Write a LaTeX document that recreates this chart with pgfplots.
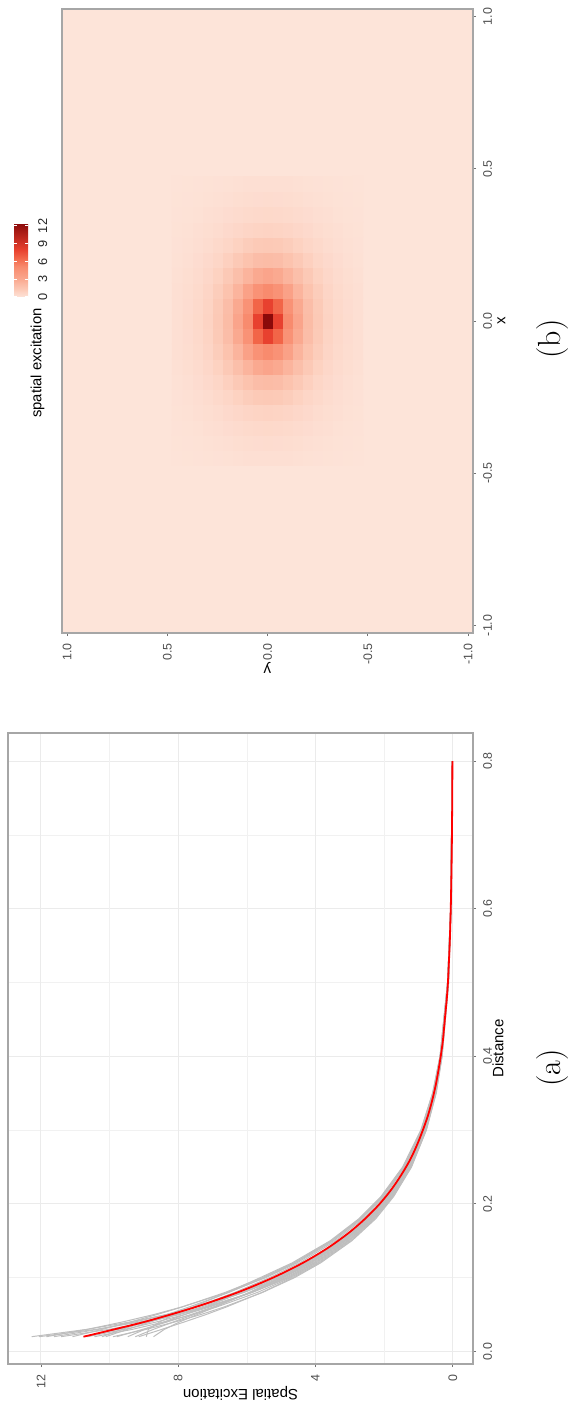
\documentclass[border=0pt]{standalone}
\usepackage{graphicx}
\usepackage{fontspec}
\newfontfamily\arial{Liberation Sans}
\usepackage{pgfplots}
\pgfplotsset{compat=1.18}
\usepackage{pgfplotstable}
\definecolor{gtext}{HTML}{4D4D4D}
\definecolor{gline}{HTML}{BEBEBE}
\definecolor{gridc}{HTML}{EBEBEB}
\definecolor{bord}{HTML}{A6A6A6}
\definecolor{bg0}{RGB}{253,228,217}
\pgfplotsset{/pgf/number format/assume math mode=true,
  colormap={reds}{rgb255(0cm)=(253,228,217); rgb255(0.35cm)=(253,220,207); rgb255(0.85cm)=(253,211,195); rgb255(1.3cm)=(252,201,182); rgb255(2.1cm)=(251,187,165); rgb255(3.2cm)=(250,165,140); rgb255(5.1cm)=(248,139,110); rgb255(6.6cm)=(242,101,72); rgb255(8cm)=(232,64,46); rgb255(12.5cm)=(139,10,10)}}

\pgfplotstableread{
x r
0.02 10.76
0.04 8.99
0.06 7.51
0.08 6.27
0.10 5.24
0.12 4.37
0.14 3.65
0.16 3.05
0.18 2.55
0.20 2.13
0.22 1.78
0.24 1.49
0.26 1.24
0.28 1.04
0.30 0.87
0.32 0.72
0.34 0.60
0.36 0.50
0.38 0.42
0.40 0.35
0.42 0.29
0.44 0.25
0.46 0.21
0.48 0.17
0.50 0.14
0.52 0.12
0.54 0.10
0.56 0.083
0.58 0.070
0.60 0.058
0.62 0.049
0.64 0.041
0.66 0.034
0.68 0.028
0.70 0.024
0.72 0.020
0.74 0.016
0.76 0.014
0.78 0.011
0.80 0.010
}\redt

\pgfplotstableread{
x g1 g2 g3 g4 g5 g6 g7 g8 g9 g10 g11 g12 g13 g14 g15 g16 g17 g18
0.02 12.27 11.84 11.41 11.08 10.76 10.44 10.11 9.79 9.47 9.15 8.93 8.72 12.05 11.62 10.65 9.90 9.25 10.22
0.03 10.65 10.64 10.01 10.21 9.74 9.33 9.48 9.03 8.97 8.47 8.87 8.40 10.39 10.32 9.55 8.93 8.72 9.63
0.04 9.39 9.62 8.90 9.39 8.86 8.41 8.81 8.32 8.41 7.82 8.54 7.96 9.12 9.26 8.63 8.09 8.14 8.99
0.05 8.35 8.71 7.96 8.62 8.05 7.59 8.14 7.63 7.81 7.19 8.10 7.45 8.07 8.33 7.81 7.34 7.54 8.33
0.06 7.49 7.92 7.17 7.90 7.34 6.89 7.51 7.00 7.23 6.61 7.59 6.93 7.23 7.55 7.10 6.68 6.97 7.70
0.08 6.08 6.56 5.86 6.63 6.10 5.69 6.35 5.87 6.14 5.56 6.56 5.93 5.84 6.21 5.87 5.54 5.90 6.52
0.10 4.98 5.45 4.82 5.55 5.08 4.72 5.34 4.93 5.19 4.66 5.61 5.03 4.77 5.14 4.87 4.61 4.98 5.50
0.12 4.15 4.54 4.02 4.63 4.24 3.93 4.46 4.11 4.33 3.89 4.68 4.20 3.98 4.28 4.06 3.85 4.15 4.59
0.15 3.17 3.47 3.07 3.54 3.24 3.01 3.41 3.14 3.31 2.97 3.57 3.21 3.04 3.27 3.11 2.94 3.17 3.51
0.18 2.42 2.65 2.35 2.70 2.47 2.30 2.60 2.40 2.52 2.27 2.73 2.45 2.32 2.50 2.37 2.24 2.42 2.68
0.21 1.85 2.03 1.79 2.07 1.89 1.76 1.99 1.83 1.93 1.74 2.09 1.87 1.77 1.91 1.81 1.72 1.85 2.05
0.25 1.29 1.41 1.25 1.44 1.32 1.22 1.39 1.28 1.35 1.21 1.46 1.31 1.24 1.33 1.26 1.20 1.29 1.43
0.30 0.83 0.90 0.80 0.92 0.84 0.78 0.89 0.82 0.86 0.77 0.93 0.84 0.79 0.85 0.81 0.77 0.83 0.91
0.35 0.52 0.57 0.51 0.58 0.53 0.50 0.56 0.52 0.54 0.49 0.59 0.53 0.50 0.54 0.51 0.48 0.52 0.58
0.40 0.33 0.36 0.32 0.37 0.34 0.32 0.36 0.33 0.35 0.31 0.37 0.34 0.32 0.34 0.33 0.31 0.33 0.37
0.50 0.13 0.15 0.13 0.15 0.14 0.13 0.14 0.13 0.14 0.12 0.15 0.13 0.13 0.14 0.13 0.12 0.13 0.15
0.60 0.055 0.060 0.053 0.061 0.056 0.052 0.059 0.055 0.057 0.052 0.062 0.056 0.053 0.057 0.054 0.051 0.055 0.061
0.80 0.010 0.010 0.009 0.011 0.010 0.009 0.010 0.009 0.010 0.009 0.011 0.010 0.009 0.010 0.009 0.009 0.010 0.011
}\grayt

\begin{document}
\rotatebox{90}{%
\begin{tikzpicture}
\useasboundingbox (0,0) rectangle (701.5pt,286pt);
% ---------------- panel (a)
\begin{axis}[at={(19.5pt,49.5pt)}, anchor=south west, scale only axis,
  width=315.5pt, height=232.5pt,
  xmin=-0.017, xmax=0.838, ymin=-0.59, ymax=12.96,
  xtick={0,0.2,0.4,0.6,0.8}, ytick={0,4,8,12},
  minor xtick={0.1,0.3,0.5,0.7}, minor ytick={2,6,10},
  grid=both,
  major grid style={draw=gridc, line width=0.5pt},
  minor grid style={draw=gridc!70, line width=0.3pt},
  minor tick length=0pt, major tick length=1.6pt, tick align=outside,
  xtick pos=left, ytick pos=left,
  tick style={draw=black!55, line width=0.4pt},
  axis line style={draw=bord, line width=0.6pt},
  tick label style={font=\arial\fontsize{6.2}{7}\selectfont, text=gtext},
  xticklabel style={/pgf/number format/fixed, /pgf/number format/fixed zerofill, /pgf/number format/precision=1},
  xlabel={Distance}, ylabel={Spatial Excitation},
  label style={font=\arial\fontsize{7.5}{9}\selectfont},
  xlabel style={at={(axis description cs:0.5,-0.0538)}, anchor=center},
  ylabel style={at={(axis description cs:-0.046,0.5)}, anchor=center},
]
\foreach \c in {g1,g2,g3,g4,g5,g6,g7,g8,g9,g10,g11,g12,g13,g14,g15,g16,g17,g18}{
  \addplot[draw=gline, line width=0.5pt, line join=round] table[x=x, y=\c] {\grayt};
}
\addplot[draw=red, line width=0.9pt, smooth] table[x=x, y=r] {\redt};
\end{axis}
% ---------------- panel (b)
\begin{axis}[at={(385pt,49.5pt)}, anchor=south west, scale only axis,
  width=312pt, height=205.5pt,
  xmin=-1.025, xmax=1.025, ymin=-1.025, ymax=1.025,
  xtick={-1,-0.5,0,0.5,1}, ytick={-1,-0.5,0,0.5,1},
  axis background/.style={fill=bg0},
  axis on top,
  major tick length=1.6pt, tick align=outside,
  xtick pos=left, ytick pos=left,
  tick style={draw=black!55, line width=0.4pt},
  axis line style={draw=bord, line width=0.6pt},
  tick label style={font=\arial\fontsize{6.2}{7}\selectfont, text=gtext},
  xticklabel style={/pgf/number format/fixed, /pgf/number format/fixed zerofill, /pgf/number format/precision=1},
  yticklabel style={/pgf/number format/fixed, /pgf/number format/fixed zerofill, /pgf/number format/precision=1},
  xlabel={x}, ylabel={y},
  label style={font=\arial\fontsize{7.5}{9}\selectfont},
  xlabel style={at={(axis description cs:0.5,-0.0693)}, anchor=center},
  ylabel style={at={(axis description cs:-0.0561,0.5)}, anchor=center},
  colormap name=reds, point meta min=0, point meta max=12.5,
  colorbar horizontal,
  colorbar style={at={(553pt,280.5pt)}, anchor=south west, scale only axis,
    width=37pt, height=7pt,
    xtick={0,3,6,9,12},
    xticklabel style={font=\arial\fontsize{6.4}{7}\selectfont, text=black!85, yshift=-1.5pt,
      /pgf/number format/fixed zerofill=false, /pgf/number format/precision=0},
    axis line style={draw=none},
    xtick style={draw=white, line width=0.5pt},
    major tick length=1.4pt, tick align=inside},
]
\addplot[matrix plot*, mesh/cols=19, point meta=explicit] table[x=x, y=y, meta=v, row sep=\\] {
x y v\\
-0.45 -0.45 0.04\\ -0.40 -0.45 0.06\\ -0.35 -0.45 0.07\\ -0.30 -0.45 0.10\\ -0.25 -0.45 0.12\\ -0.20 -0.45 0.15\\ -0.15 -0.45 0.17\\ -0.10 -0.45 0.20\\ -0.05 -0.45 0.21\\ 0 -0.45 0.22\\ 0.05 -0.45 0.21\\ 0.10 -0.45 0.20\\ 0.15 -0.45 0.17\\ 0.20 -0.45 0.15\\ 0.25 -0.45 0.12\\ 0.30 -0.45 0.10\\ 0.35 -0.45 0.07\\ 0.40 -0.45 0.06\\ 0.45 -0.45 0.04\\
-0.45 -0.40 0.06\\ -0.40 -0.40 0.08\\ -0.35 -0.40 0.10\\ -0.30 -0.40 0.14\\ -0.25 -0.40 0.18\\ -0.20 -0.40 0.22\\ -0.15 -0.40 0.27\\ -0.10 -0.40 0.31\\ -0.05 -0.40 0.33\\ 0 -0.40 0.34\\ 0.05 -0.40 0.33\\ 0.10 -0.40 0.31\\ 0.15 -0.40 0.27\\ 0.20 -0.40 0.22\\ 0.25 -0.40 0.18\\ 0.30 -0.40 0.14\\ 0.35 -0.40 0.10\\ 0.40 -0.40 0.08\\ 0.45 -0.40 0.06\\
-0.45 -0.35 0.07\\ -0.40 -0.35 0.10\\ -0.35 -0.35 0.15\\ -0.30 -0.35 0.20\\ -0.25 -0.35 0.26\\ -0.20 -0.35 0.33\\ -0.15 -0.35 0.41\\ -0.10 -0.35 0.47\\ -0.05 -0.35 0.52\\ 0 -0.35 0.54\\ 0.05 -0.35 0.52\\ 0.10 -0.35 0.47\\ 0.15 -0.35 0.41\\ 0.20 -0.35 0.33\\ 0.25 -0.35 0.26\\ 0.30 -0.35 0.20\\ 0.35 -0.35 0.15\\ 0.40 -0.35 0.10\\ 0.45 -0.35 0.07\\
-0.45 -0.30 0.10\\ -0.40 -0.30 0.14\\ -0.35 -0.30 0.20\\ -0.30 -0.30 0.27\\ -0.25 -0.30 0.37\\ -0.20 -0.30 0.49\\ -0.15 -0.30 0.61\\ -0.10 -0.30 0.73\\ -0.05 -0.30 0.81\\ 0 -0.30 0.84\\ 0.05 -0.30 0.81\\ 0.10 -0.30 0.73\\ 0.15 -0.30 0.61\\ 0.20 -0.30 0.49\\ 0.25 -0.30 0.37\\ 0.30 -0.30 0.27\\ 0.35 -0.30 0.20\\ 0.40 -0.30 0.14\\ 0.45 -0.30 0.10\\
-0.45 -0.25 0.12\\ -0.40 -0.25 0.18\\ -0.35 -0.25 0.26\\ -0.30 -0.25 0.37\\ -0.25 -0.25 0.52\\ -0.20 -0.25 0.70\\ -0.15 -0.25 0.91\\ -0.10 -0.25 1.11\\ -0.05 -0.25 1.26\\ 0 -0.25 1.32\\ 0.05 -0.25 1.26\\ 0.10 -0.25 1.11\\ 0.15 -0.25 0.91\\ 0.20 -0.25 0.70\\ 0.25 -0.25 0.52\\ 0.30 -0.25 0.37\\ 0.35 -0.25 0.26\\ 0.40 -0.25 0.18\\ 0.45 -0.25 0.12\\
-0.45 -0.20 0.15\\ -0.40 -0.20 0.22\\ -0.35 -0.20 0.33\\ -0.30 -0.20 0.49\\ -0.25 -0.20 0.70\\ -0.20 -0.20 0.98\\ -0.15 -0.20 1.32\\ -0.10 -0.20 1.67\\ -0.05 -0.20 1.96\\ 0 -0.20 2.07\\ 0.05 -0.20 1.96\\ 0.10 -0.20 1.67\\ 0.15 -0.20 1.32\\ 0.20 -0.20 0.98\\ 0.25 -0.20 0.70\\ 0.30 -0.20 0.49\\ 0.35 -0.20 0.33\\ 0.40 -0.20 0.22\\ 0.45 -0.20 0.15\\
-0.45 -0.15 0.17\\ -0.40 -0.15 0.27\\ -0.35 -0.15 0.41\\ -0.30 -0.15 0.61\\ -0.25 -0.15 0.91\\ -0.20 -0.15 1.32\\ -0.15 -0.15 1.85\\ -0.10 -0.15 2.47\\ -0.05 -0.15 3.01\\ 0 -0.15 3.24\\ 0.05 -0.15 3.01\\ 0.10 -0.15 2.47\\ 0.15 -0.15 1.85\\ 0.20 -0.15 1.32\\ 0.25 -0.15 0.91\\ 0.30 -0.15 0.61\\ 0.35 -0.15 0.41\\ 0.40 -0.15 0.27\\ 0.45 -0.15 0.17\\
-0.45 -0.10 0.20\\ -0.40 -0.10 0.31\\ -0.35 -0.10 0.47\\ -0.30 -0.10 0.73\\ -0.25 -0.10 1.11\\ -0.20 -0.10 1.67\\ -0.15 -0.10 2.47\\ -0.10 -0.10 3.50\\ -0.05 -0.10 4.57\\ 0 -0.10 5.08\\ 0.05 -0.10 4.57\\ 0.10 -0.10 3.50\\ 0.15 -0.10 2.47\\ 0.20 -0.10 1.67\\ 0.25 -0.10 1.11\\ 0.30 -0.10 0.73\\ 0.35 -0.10 0.47\\ 0.40 -0.10 0.31\\ 0.45 -0.10 0.20\\
-0.45 -0.05 0.21\\ -0.40 -0.05 0.33\\ -0.35 -0.05 0.52\\ -0.30 -0.05 0.81\\ -0.25 -0.05 1.26\\ -0.20 -0.05 1.96\\ -0.15 -0.05 3.01\\ -0.10 -0.05 4.57\\ -0.05 -0.05 6.61\\ 0 -0.05 7.97\\ 0.05 -0.05 6.61\\ 0.10 -0.05 4.57\\ 0.15 -0.05 3.01\\ 0.20 -0.05 1.96\\ 0.25 -0.05 1.26\\ 0.30 -0.05 0.81\\ 0.35 -0.05 0.52\\ 0.40 -0.05 0.33\\ 0.45 -0.05 0.21\\
-0.45 0 0.22\\ -0.40 0 0.34\\ -0.35 0 0.54\\ -0.30 0 0.84\\ -0.25 0 1.32\\ -0.20 0 2.07\\ -0.15 0 3.24\\ -0.10 0 5.08\\ -0.05 0 7.97\\ 0 0 12.5\\ 0.05 0 7.97\\ 0.10 0 5.08\\ 0.15 0 3.24\\ 0.20 0 2.07\\ 0.25 0 1.32\\ 0.30 0 0.84\\ 0.35 0 0.54\\ 0.40 0 0.34\\ 0.45 0 0.22\\
-0.45 0.05 0.21\\ -0.40 0.05 0.33\\ -0.35 0.05 0.52\\ -0.30 0.05 0.81\\ -0.25 0.05 1.26\\ -0.20 0.05 1.96\\ -0.15 0.05 3.01\\ -0.10 0.05 4.57\\ -0.05 0.05 6.61\\ 0 0.05 7.97\\ 0.05 0.05 6.61\\ 0.10 0.05 4.57\\ 0.15 0.05 3.01\\ 0.20 0.05 1.96\\ 0.25 0.05 1.26\\ 0.30 0.05 0.81\\ 0.35 0.05 0.52\\ 0.40 0.05 0.33\\ 0.45 0.05 0.21\\
-0.45 0.10 0.20\\ -0.40 0.10 0.31\\ -0.35 0.10 0.47\\ -0.30 0.10 0.73\\ -0.25 0.10 1.11\\ -0.20 0.10 1.67\\ -0.15 0.10 2.47\\ -0.10 0.10 3.50\\ -0.05 0.10 4.57\\ 0 0.10 5.08\\ 0.05 0.10 4.57\\ 0.10 0.10 3.50\\ 0.15 0.10 2.47\\ 0.20 0.10 1.67\\ 0.25 0.10 1.11\\ 0.30 0.10 0.73\\ 0.35 0.10 0.47\\ 0.40 0.10 0.31\\ 0.45 0.10 0.20\\
-0.45 0.15 0.17\\ -0.40 0.15 0.27\\ -0.35 0.15 0.41\\ -0.30 0.15 0.61\\ -0.25 0.15 0.91\\ -0.20 0.15 1.32\\ -0.15 0.15 1.85\\ -0.10 0.15 2.47\\ -0.05 0.15 3.01\\ 0 0.15 3.24\\ 0.05 0.15 3.01\\ 0.10 0.15 2.47\\ 0.15 0.15 1.85\\ 0.20 0.15 1.32\\ 0.25 0.15 0.91\\ 0.30 0.15 0.61\\ 0.35 0.15 0.41\\ 0.40 0.15 0.27\\ 0.45 0.15 0.17\\
-0.45 0.20 0.15\\ -0.40 0.20 0.22\\ -0.35 0.20 0.33\\ -0.30 0.20 0.49\\ -0.25 0.20 0.70\\ -0.20 0.20 0.98\\ -0.15 0.20 1.32\\ -0.10 0.20 1.67\\ -0.05 0.20 1.96\\ 0 0.20 2.07\\ 0.05 0.20 1.96\\ 0.10 0.20 1.67\\ 0.15 0.20 1.32\\ 0.20 0.20 0.98\\ 0.25 0.20 0.70\\ 0.30 0.20 0.49\\ 0.35 0.20 0.33\\ 0.40 0.20 0.22\\ 0.45 0.20 0.15\\
-0.45 0.25 0.12\\ -0.40 0.25 0.18\\ -0.35 0.25 0.26\\ -0.30 0.25 0.37\\ -0.25 0.25 0.52\\ -0.20 0.25 0.70\\ -0.15 0.25 0.91\\ -0.10 0.25 1.11\\ -0.05 0.25 1.26\\ 0 0.25 1.32\\ 0.05 0.25 1.26\\ 0.10 0.25 1.11\\ 0.15 0.25 0.91\\ 0.20 0.25 0.70\\ 0.25 0.25 0.52\\ 0.30 0.25 0.37\\ 0.35 0.25 0.26\\ 0.40 0.25 0.18\\ 0.45 0.25 0.12\\
-0.45 0.30 0.10\\ -0.40 0.30 0.14\\ -0.35 0.30 0.20\\ -0.30 0.30 0.27\\ -0.25 0.30 0.37\\ -0.20 0.30 0.49\\ -0.15 0.30 0.61\\ -0.10 0.30 0.73\\ -0.05 0.30 0.81\\ 0 0.30 0.84\\ 0.05 0.30 0.81\\ 0.10 0.30 0.73\\ 0.15 0.30 0.61\\ 0.20 0.30 0.49\\ 0.25 0.30 0.37\\ 0.30 0.30 0.27\\ 0.35 0.30 0.20\\ 0.40 0.30 0.14\\ 0.45 0.30 0.10\\
-0.45 0.35 0.07\\ -0.40 0.35 0.10\\ -0.35 0.35 0.15\\ -0.30 0.35 0.20\\ -0.25 0.35 0.26\\ -0.20 0.35 0.33\\ -0.15 0.35 0.41\\ -0.10 0.35 0.47\\ -0.05 0.35 0.52\\ 0 0.35 0.54\\ 0.05 0.35 0.52\\ 0.10 0.35 0.47\\ 0.15 0.35 0.41\\ 0.20 0.35 0.33\\ 0.25 0.35 0.26\\ 0.30 0.35 0.20\\ 0.35 0.35 0.15\\ 0.40 0.35 0.10\\ 0.45 0.35 0.07\\
-0.45 0.40 0.06\\ -0.40 0.40 0.08\\ -0.35 0.40 0.10\\ -0.30 0.40 0.14\\ -0.25 0.40 0.18\\ -0.20 0.40 0.22\\ -0.15 0.40 0.27\\ -0.10 0.40 0.31\\ -0.05 0.40 0.33\\ 0 0.40 0.34\\ 0.05 0.40 0.33\\ 0.10 0.40 0.31\\ 0.15 0.40 0.27\\ 0.20 0.40 0.22\\ 0.25 0.40 0.18\\ 0.30 0.40 0.14\\ 0.35 0.40 0.10\\ 0.40 0.40 0.08\\ 0.45 0.40 0.06\\
-0.45 0.45 0.04\\ -0.40 0.45 0.06\\ -0.35 0.45 0.07\\ -0.30 0.45 0.10\\ -0.25 0.45 0.12\\ -0.20 0.45 0.15\\ -0.15 0.45 0.17\\ -0.10 0.45 0.20\\ -0.05 0.45 0.21\\ 0 0.45 0.22\\ 0.05 0.45 0.21\\ 0.10 0.45 0.20\\ 0.15 0.45 0.17\\ 0.20 0.45 0.15\\ 0.25 0.45 0.12\\ 0.30 0.45 0.10\\ 0.35 0.45 0.07\\ 0.40 0.45 0.06\\ 0.45 0.45 0.04\\
};
\end{axis}
\node[anchor=base east, inner sep=0pt, font=\arial\fontsize{7.4}{9}\selectfont] at (547.5pt,265.3pt) {spatial excitation};
\node[inner sep=0pt, font=\fontsize{16}{18}\selectfont] at (167.5pt,9.75pt) {(a)};
\node[inner sep=0pt, font=\fontsize{16}{18}\selectfont] at (532pt,9.75pt) {(b)};
\end{tikzpicture}}
\end{document}
